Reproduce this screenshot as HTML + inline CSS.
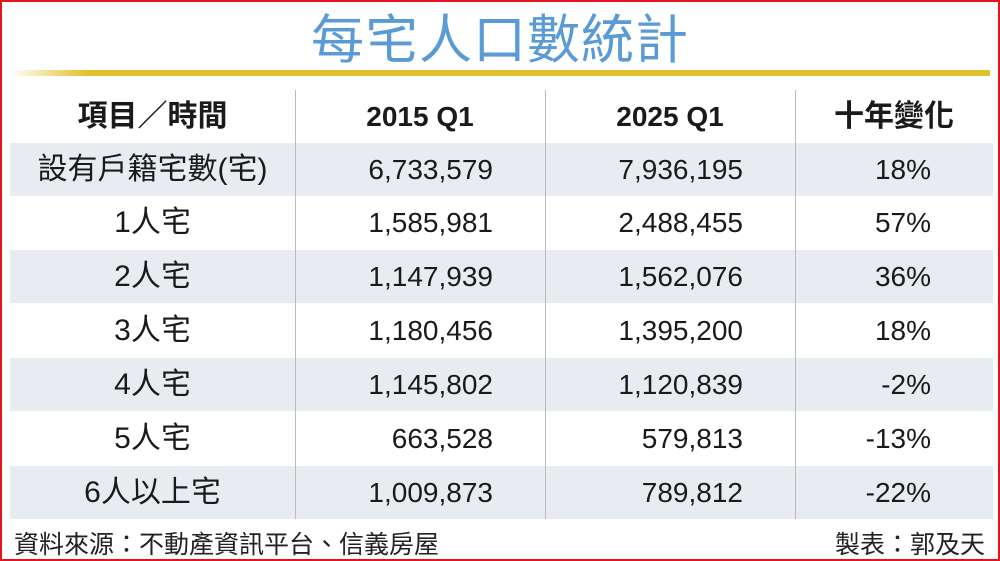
<!DOCTYPE html>
<html><head><meta charset="utf-8"><style>
body{margin:0;width:1000px;height:561px;overflow:hidden;background:#fff;font-family:"Liberation Sans","Noto Sans CJK TC",sans-serif;}
.frame{position:absolute;left:0;top:0;width:996px;height:557px;border:2px solid #e8101a;}
.title{position:absolute;left:0;width:1000px;top:-2px;text-align:center;font-size:53px;color:#5b9bd5;letter-spacing:1px;}
.gold{position:absolute;left:10px;top:70px;width:980px;height:6px;background:linear-gradient(to right,#fff 0%,#e2c02a 8%,#e2c02a 100%);}
.row{position:absolute;left:10px;width:983px;height:53px;font-size:28px;color:#1a1a1a;}
.row.s{background:#e8ecf1;}
.row div{position:absolute;top:0;line-height:53px;}
.c1{left:0;width:285px;text-align:center;font-size:30px;}
.c2{right:500px;}
.c3{right:250px;}
.c4{right:62px;}
.h{font-weight:bold;}
.vl{position:absolute;top:90px;height:429px;width:1px;background:#bbb;}
.foot{position:absolute;top:525px;font-size:25px;color:#222;}
</style></head><body>
<div class="frame"></div>
<div class="title">每宅人口數統計</div>
<div class="gold"></div>
<div class="row h" style="top:90px"><div class="c1">項目／時間</div><div style="left:285px;width:250px;text-align:center">2015 Q1</div><div style="left:535px;width:250px;text-align:center">2025 Q1</div><div style="left:785px;width:198px;text-align:center;font-size:30px">十年變化</div></div>
<div class="row s" style="top:143px"><div class="c1">設有戶籍宅數(宅)</div><div class="c2">6,733,579</div><div class="c3">7,936,195</div><div class="c4">18%</div></div>
<div class="row" style="top:196px"><div class="c1">1人宅</div><div class="c2">1,585,981</div><div class="c3">2,488,455</div><div class="c4">57%</div></div>
<div class="row s" style="top:250px"><div class="c1">2人宅</div><div class="c2">1,147,939</div><div class="c3">1,562,076</div><div class="c4">36%</div></div>
<div class="row" style="top:304px"><div class="c1">3人宅</div><div class="c2">1,180,456</div><div class="c3">1,395,200</div><div class="c4">18%</div></div>
<div class="row s" style="top:358px"><div class="c1">4人宅</div><div class="c2">1,145,802</div><div class="c3">1,120,839</div><div class="c4">-2%</div></div>
<div class="row" style="top:412px"><div class="c1">5人宅</div><div class="c2">663,528</div><div class="c3">579,813</div><div class="c4">-13%</div></div>
<div class="row s" style="top:466px"><div class="c1">6人以上宅</div><div class="c2">1,009,873</div><div class="c3">789,812</div><div class="c4">-22%</div></div>
<div class="vl" style="left:295px"></div>
<div class="vl" style="left:545px"></div>
<div class="vl" style="left:795px"></div>
<div class="foot" style="left:14px">資料來源：不動產資訊平台、信義房屋</div>
<div class="foot" style="right:15px">製表：郭及天</div>
</body></html>
